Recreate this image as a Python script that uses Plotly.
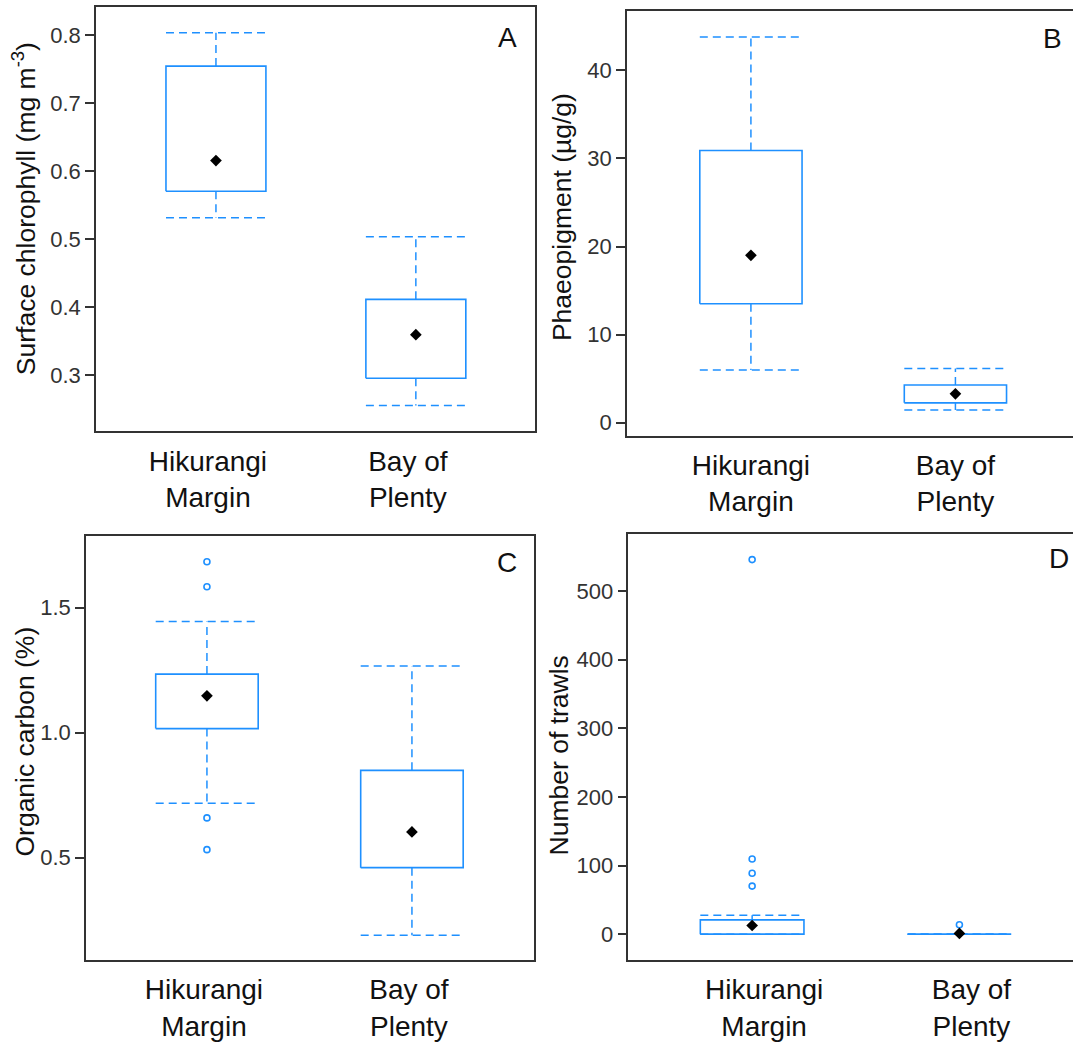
import plotly.graph_objects as go

W, H = 1073, 1042

categories = ["Hikurangi<br>Margin", "Bay of<br>Plenty"]

# Panel A - surface chlorophyll (mg m-3)
chl_lower = [0.532, 0.256]
chl_q1 = [0.571, 0.296]
chl_median = [0.616, 0.360]
chl_q3 = [0.755, 0.412]
chl_upper = [0.804, 0.504]
chl_outliers = [[], []]
chl_ticks = [0.3, 0.4, 0.5, 0.6, 0.7, 0.8]
chl_ticklabels = ["0.3", "0.4", "0.5", "0.6", "0.7", "0.8"]

# Panel B - phaeopigment (ug/g)
pha_lower = [5.97, 1.43]
pha_q1 = [13.5, 2.25]
pha_median = [19.0, 3.27]
pha_q3 = [30.9, 4.28]
pha_upper = [43.8, 6.16]
pha_outliers = [[], []]
pha_ticks = [0, 10, 20, 30, 40]
pha_ticklabels = ["0", "10", "20", "30", "40"]

# Panel C - organic carbon (%)
oc_lower = [0.718, 0.19]
oc_q1 = [1.016, 0.46]
oc_median = [1.147, 0.603]
oc_q3 = [1.234, 0.849]
oc_upper = [1.444, 1.266]
oc_outliers = [[1.683, 1.583, 0.659, 0.532], []]
oc_ticks = [0.5, 1.0, 1.5]
oc_ticklabels = ["0.5", "1.0", "1.5"]

# Panel D - number of trawls
tr_lower = [0, 0]
tr_q1 = [0, 0]
tr_median = [12.6, 1]
tr_q3 = [20.8, 0]
tr_upper = [27.5, 0]
tr_outliers = [[546, 109.5, 88.8, 70], [13.6]]
tr_ticks = [0, 100, 200, 300, 400, 500]
tr_ticklabels = ["0", "100", "200", "300", "400", "500"]

BLUE = "#1E90FF"
FRAME = "#333333"
FONT = "Liberation Sans, Arial, sans-serif"
HW = 0.25  # half box width (category units)

panels = [
    dict(lower=chl_lower, q1=chl_q1, med=chl_median, q3=chl_q3, upper=chl_upper,
         out=chl_outliers, ticks=chl_ticks, labels=chl_ticklabels,
         title="Surface chlorophyll (mg m<sup>-3</sup>)", letter="A",
         px=(96, 534.8), py=(7, 435), xr=[-0.6, 1.595], yr=[0.218, 0.842],
         mirror=True, shift=-8, title_xy=(24, 211), letter_xy=(507, 37.5)),
    dict(lower=pha_lower, q1=pha_q1, med=pha_median, q3=pha_q3, upper=pha_upper,
         out=pha_outliers, ticks=pha_ticks, labels=pha_ticklabels,
         title="Phaeopigment (µg/g)", letter="B",
         px=(627, 1073), py=(11, 439.3), xr=[-0.606, 1.575], yr=[-1.46, 46.76],
         mirror=False, shift=0, title_xy=(562, 219), letter_xy=(1052, 39)),
    dict(lower=oc_lower, q1=oc_q1, med=oc_median, q3=oc_q3, upper=oc_upper,
         out=oc_outliers, ticks=oc_ticks, labels=oc_ticklabels,
         title="Organic carbon (%)", letter="C",
         px=(86, 533.7), py=(540.7, 968.3), xr=[-0.59, 1.594], yr=[0.091, 1.786],
         mirror=True, shift=-3, title_xy=(25, 748), letter_xy=(507, 567)),
    dict(lower=tr_lower, q1=tr_q1, med=tr_median, q3=tr_q3, upper=tr_upper,
         out=tr_outliers, ticks=tr_ticks, labels=tr_ticklabels,
         title="Number of trawls", letter="D",
         px=(628.4, 1073), py=(538.3, 968.3), xr=[-0.597, 1.548], yr=[-37.6, 583.8],
         mirror=False, shift=12, title_xy=(559, 762), letter_xy=(1059, 563)),
]

fig = go.Figure()
layout = dict(
    width=W, height=H, margin=dict(l=0, r=0, t=0, b=0),
    paper_bgcolor="white", plot_bgcolor="white", showlegend=False,
    font=dict(family=FONT, color="#111111"),
)
annotations = []

for k, p in enumerate(panels):
    n = "" if k == 0 else str(k + 1)
    xa, ya = "x" + n, "y" + n
    dash_x, dash_y, box_x, box_y = [], [], [], []
    out_x, out_y = [], []
    for i in range(len(categories)):
        # whiskers and caps (dashed)
        dash_x += [i, i, None, i, i, None,
                   i - HW, i + HW, None, i - HW, i + HW, None]
        dash_y += [p["q3"][i], p["upper"][i], None, p["q1"][i], p["lower"][i], None,
                   p["upper"][i], p["upper"][i], None, p["lower"][i], p["lower"][i], None]
        box_x += [i - HW, i + HW, i + HW, i - HW, i - HW, None]
        box_y += [p["q1"][i], p["q1"][i], p["q3"][i], p["q3"][i], p["q1"][i], None]
        for v in p["out"][i]:
            out_x.append(i)
            out_y.append(v)
    fig.add_trace(go.Scatter(x=box_x, y=box_y, mode="lines", xaxis=xa, yaxis=ya,
                             line=dict(color=BLUE, width=1.6), hoverinfo="skip"))
    fig.add_trace(go.Scatter(x=dash_x, y=dash_y, mode="lines", xaxis=xa, yaxis=ya,
                             line=dict(color=BLUE, width=1.5, dash="8px,5px"),
                             hoverinfo="skip"))
    if out_x:
        fig.add_trace(go.Scatter(x=out_x, y=out_y, mode="markers", xaxis=xa, yaxis=ya,
                                 marker=dict(symbol="circle-open", size=6, color=BLUE,
                                             line=dict(width=1.6, color=BLUE)),
                                 hoverinfo="skip"))
    fig.add_trace(go.Scatter(x=list(range(len(categories))), y=p["med"], mode="markers",
                             xaxis=xa, yaxis=ya,
                             marker=dict(symbol="diamond", size=9, color="black"),
                             hoverinfo="skip"))

    x0, x1 = p["px"][0] / W, p["px"][1] / W
    y0, y1 = 1 - p["py"][1] / H, 1 - p["py"][0] / H
    layout["xaxis" + n] = dict(
        domain=[x0, x1], range=p["xr"], anchor=ya, showline=True, linecolor=FRAME,
        linewidth=1.5, mirror=True, ticks="", tickvals=list(range(len(categories))),
        ticktext=categories, tickfont=dict(size=28, color="#111111", family=FONT),
        showgrid=False, zeroline=False, fixedrange=True, ticklabelshift=p["shift"],
        ticklabelstandoff=4,
    )
    layout["yaxis" + n] = dict(
        domain=[y0, y1], range=p["yr"], anchor=xa, showline=True, linecolor=FRAME,
        linewidth=1.5, mirror=p["mirror"], ticks="outside", ticklen=9, tickwidth=1.5,
        tickcolor=FRAME, tickvals=p["ticks"], ticktext=p["labels"],
        tickfont=dict(size=22, color="#333333", family=FONT),
        showgrid=False, zeroline=False, fixedrange=True,
    )
    annotations.append(dict(
        text=p["title"], textangle=-90, xref="paper", yref="paper",
        x=p["title_xy"][0] / W, y=1 - p["title_xy"][1] / H, xanchor="center",
        yanchor="middle", showarrow=False, font=dict(size=26.5, color="#111111", family=FONT),
    ))
    annotations.append(dict(
        text=p["letter"], xref="paper", yref="paper",
        x=p["letter_xy"][0] / W, y=1 - p["letter_xy"][1] / H, xanchor="center",
        yanchor="middle", showarrow=False, font=dict(size=28, color="#111111", family=FONT),
    ))

layout["annotations"] = annotations
fig.update_layout(**layout)
fig.write_html("out.html")
